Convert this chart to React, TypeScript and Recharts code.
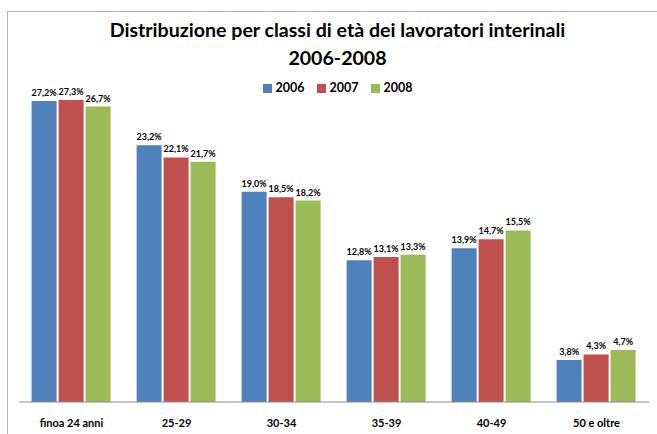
import React from "react";
import { BarChart, Bar, XAxis, YAxis, LabelList } from "recharts";

const categories = ["finoa 24 anni", "25-29", "30-34", "35-39", "40-49", "50 e oltre"];
const values2006 = [27.2, 23.2, 19.0, 12.8, 13.9, 3.8];
const values2007 = [27.3, 22.1, 18.5, 13.1, 14.7, 4.3];
const values2008 = [26.7, 21.7, 18.2, 13.3, 15.5, 4.7];
const seriesNames = ["2006", "2007", "2008"];
const seriesColors = ["#4F81BD", "#C0504D", "#9BBB59"];

const data = categories.map((name, i) => ({
  name,
  y2006: values2006[i],
  y2007: values2007[i],
  y2008: values2008[i],
}));

const FONT = "Lato, 'Open Sans', sans-serif";

const fmt = (v: any) => `${Number(v).toFixed(1).replace(".", ",")}%`;

const labelStyle = { fontSize: 9, fontWeight: 700, fill: "#000", fontFamily: FONT };

export default function App() {
  return (
    <div
      style={{
        position: "absolute",
        left: 0,
        top: 0,
        width: 657,
        height: 434,
        overflow: "hidden",
        background: "#fff",
        fontFamily: FONT,
      }}
    >
      <div
        style={{
          position: "absolute",
          left: 7,
          top: 11,
          width: 700,
          height: 500,
          border: "1px solid #b4b4b4",
        }}
      />
      <div
        style={{
          position: "absolute",
          left: 0,
          width: 675,
          top: 16,
          textAlign: "center",
          fontWeight: 700,
          fontSize: 19.6,
          lineHeight: "28px",
          color: "#000",
        }}
      >
        Distribuzione per classi di età dei lavoratori interinali
        <br />
        2006-2008
      </div>
      <div
        style={{
          position: "absolute",
          left: 0,
          width: 675,
          top: 80,
          display: "flex",
          justifyContent: "center",
          gap: 12,
          fontSize: 12.5,
          fontWeight: 700,
          lineHeight: "16px",
        }}
      >
        {seriesNames.map((s, i) => (
          <div key={s} style={{ display: "flex", alignItems: "center", gap: 4 }}>
            <span style={{ width: 9, height: 9, background: seriesColors[i], display: "inline-block" }} />
            <span>{s}</span>
          </div>
        ))}
      </div>
      <div style={{ position: "absolute", left: 0, top: 0 }}>
        <BarChart
          width={657}
          height={434}
          data={data}
          margin={{ top: 70, right: 8, bottom: 2, left: 19 }}
          barCategoryGap="12%"
          barGap={2}
        >
          <YAxis hide domain={[0, 30]} />
          <XAxis
            dataKey="name"
            axisLine={{ stroke: "#8c8c8c" }}
            tickLine={false}
            tickMargin={11}
            tick={{ fill: "#000", fontSize: 11, fontWeight: 700, fontFamily: FONT }}
          />
          <Bar dataKey="y2006" name="2006" fill={seriesColors[0]} isAnimationActive={false}>
            <LabelList dataKey="y2006" position="top" formatter={fmt} style={labelStyle} />
          </Bar>
          <Bar dataKey="y2007" name="2007" fill={seriesColors[1]} isAnimationActive={false}>
            <LabelList dataKey="y2007" position="top" formatter={fmt} style={labelStyle} />
          </Bar>
          <Bar dataKey="y2008" name="2008" fill={seriesColors[2]} isAnimationActive={false}>
            <LabelList dataKey="y2008" position="top" formatter={fmt} style={labelStyle} />
          </Bar>
        </BarChart>
      </div>
    </div>
  );
}
